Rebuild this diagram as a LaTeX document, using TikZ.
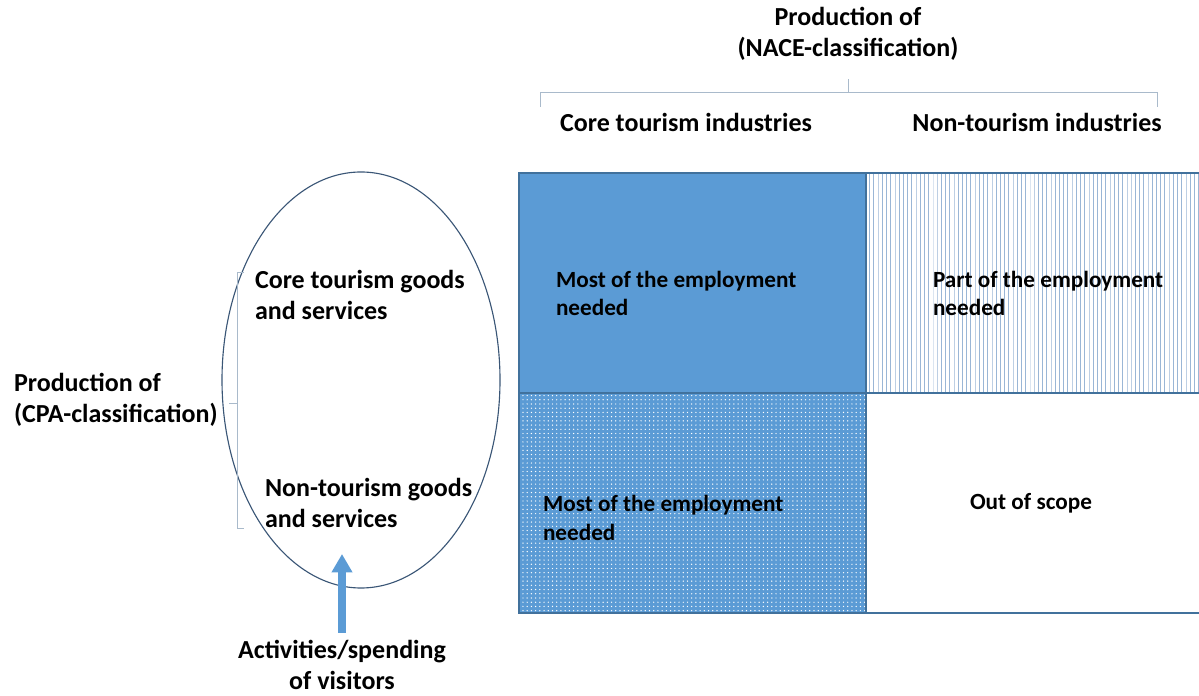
\documentclass[tikz,border=0pt]{standalone}
\usepackage{fontspec}
\setmainfont{Carlito}
\usetikzlibrary{positioning,shapes.geometric,arrows.meta,patterns}
\definecolor{cellblue}{HTML}{5B9BD5}
\definecolor{cellborder}{HTML}{41719C}
\definecolor{stripeblue}{HTML}{9AB6D6}
\definecolor{ovalline}{HTML}{3A5676}
\definecolor{bracketgrey}{HTML}{A9BACB}
\begin{document}
\begin{tikzpicture}[inner sep=0pt,outer sep=0pt,
cell/.style={draw=cellborder,line width=2pt,rectangle,minimum height=5.5cm},
head/.style={font=\bfseries\fontsize{18.5}{22}\selectfont,align=center},
celltext/.style={font=\bfseries\fontsize{16.5}{20.5}\selectfont,align=left},
bracket/.style={draw=bracketgrey,line width=0.7pt},
visit/.style={-{Triangle[width=14pt,length=13pt]},draw=cellblue,line width=5pt}]
\useasboundingbox (0,0) rectangle (29.975,17.375);
% the four cells
\node[cell,minimum width=8.675cm,fill=cellblue,anchor=north west] (coreCore) at (12.975,13.05) {};
\node[cell,minimum width=8.4cm,pattern=vertical lines,pattern color=stripeblue,right=0pt of coreCore] (coreNon) {};
\node[cell,minimum width=8.675cm,preaction={fill=cellblue},pattern=dots,pattern color=white,below=0pt of coreCore] (nonCore) {};
\node[cell,minimum width=8.4cm,right=0pt of nonCore] (nonNon) {};
\node[celltext,right=0.925cm of coreCore.west,yshift=-0.26cm] (mostA) {Most of the employment\\needed};
\node[celltext,right=1.675cm of coreNon.west,yshift=-0.26cm] (part) {Part of the employment\\needed};
\node[celltext,right=0.6cm of nonCore.west,yshift=-0.375cm] (mostB) {Most of the employment\\needed};
\node[celltext,right=2.6cm of nonNon.west] (out) {Out of scope};
% column headings
\node[head] (nace) at (21.2,16.525) {Production of\\(NACE-classification)};
\node[head] (coreHead) at (17.15,14.325) {Core tourism industries};
\node[head] (nonHead) at (25.925,14.325) {Non-tourism industries};
\draw[bracket] (13.5,14.7) |- (28.925,15.075) -- (28.925,14.7);
\draw[bracket] (21.2,15.075) -- (21.2,15.4);
% row headings
\node[draw=ovalline,line width=0.8pt,ellipse,minimum width=6.95cm,minimum height=10.4cm] (oval) at (9.025,7.875) {};
\node[head,align=left,anchor=west] (cpa) at (0.35,7.375) {Production of\\(CPA-classification)};
\node[head,align=left,anchor=west] (coreGoods) at (6.375,9.99) {Core tourism goods\\and services};
\node[head,align=left,anchor=west] (nonGoods) at (6.625,4.81) {Non-tourism goods\\and services};
\draw[bracket] (6.1,10.575) -| (5.925,4.175) -- (6.1,4.175);
\draw[bracket] (5.925,7.3) -- (5.725,7.3);
% visitors
\coordinate (tip) at (8.55,3.525);
\node[head] (visitors) at (8.55,0.74) {Activities/spending\\of visitors};
\draw[visit] (visitors.north) ++(0,0.2) -- (tip);
\end{tikzpicture}
\end{document}
